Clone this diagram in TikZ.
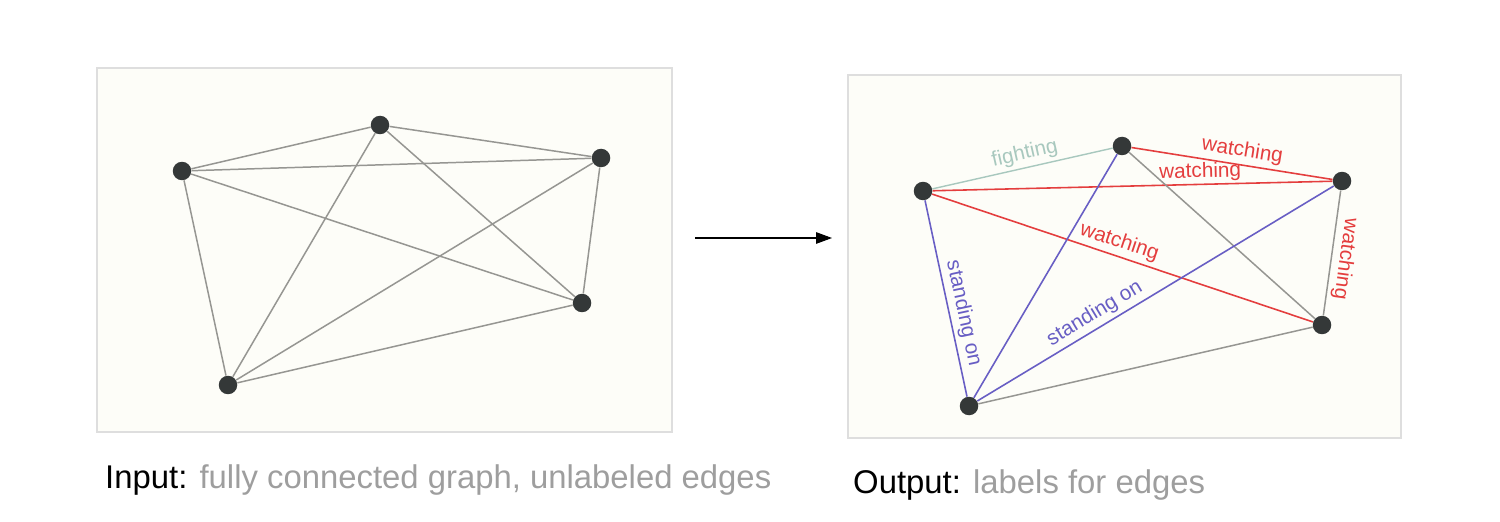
\documentclass[tikz,border=0pt]{standalone}
\usepackage{fontspec}
\setmainfont{Liberation Sans}
\usepackage{xcolor}
\usetikzlibrary{arrows.meta}
\definecolor{cBg}{RGB}{253,253,248}
\definecolor{cFrame}{RGB}{222,222,222}
\definecolor{cDot}{RGB}{52,56,56}
\definecolor{cEdge}{RGB}{150,150,146}
\definecolor{cWatch}{RGB}{228,62,62}
\definecolor{cStand}{RGB}{104,94,196}
\definecolor{cFight}{RGB}{168,200,190}
\definecolor{cCap}{RGB}{158,158,158}

\begin{document}
\begin{tikzpicture}[x=0.02cm,y=0.02cm,
  dot/.style={circle,fill=cDot,inner sep=0pt,minimum size=0.37cm},
  panel/.style={fill=cBg,draw=cFrame,line width=0.6pt},
  edge/.style={cEdge,line width=0.85pt},
  watchedge/.style={cWatch,line width=0.9pt},
  standedge/.style={cStand,line width=0.9pt},
  fightedge/.style={cFight,line width=0.8pt},
  lbl/.style={font=\fontsize{11.8}{13}\selectfont,sloped,above,inner sep=2pt},
  caption/.style={anchor=base west,font=\fontsize{18.7}{22}\selectfont}]
\useasboundingbox (0,0) rectangle (1500,521);
% input panel
\draw[panel] (97,89) rectangle (672,453);
\node[dot] (a1) at (182,350) {};
\node[dot] (b1) at (380,396) {};
\node[dot] (c1) at (601,363) {};
\node[dot] (d1) at (582,218) {};
\node[dot] (e1) at (228,136) {};
\draw[edge] (a1) -- (b1);
\draw[edge] (a1) -- (c1);
\draw[edge] (a1) -- (d1);
\draw[edge] (a1) -- (e1);
\draw[edge] (b1) -- (c1);
\draw[edge] (b1) -- (d1);
\draw[edge] (b1) -- (e1);
\draw[edge] (c1) -- (d1);
\draw[edge] (c1) -- (e1);
\draw[edge] (d1) -- (e1);
\node[caption] (capin) at (99,33) {Input: \textcolor{cCap}{fully connected graph, unlabeled edges}};
% arrow between panels
\coordinate (arrs) at (695,283);
\coordinate (arre) at (832,283);
\draw[-{Triangle[length=9pt,width=6.5pt]},line width=0.6pt] (arrs) -- (arre);
% output panel
\draw[panel] (848,83) rectangle (1401,446);
\node[dot] (a2) at (923,330) {};
\node[dot] (b2) at (1122,375) {};
\node[dot] (c2) at (1342,340) {};
\node[dot] (d2) at (1322,196) {};
\node[dot] (e2) at (969,115) {};
\draw[fightedge] (a2) -- node[lbl,pos=0.53,text=cFight] {fighting} (b2);
\draw[watchedge] (b2) -- node[lbl,pos=0.54,text=cWatch] {watching} (c2);
\draw[watchedge] (a2) -- node[lbl,pos=0.67,text=cWatch,inner sep=1pt] {watching} (c2);
\draw[watchedge] (a2) -- node[lbl,pos=0.48,text=cWatch] {watching} (d2);
\draw[edge] (c2) -- node[lbl,allow upside down,pos=0.53,text=cWatch] {watching} (d2);
\draw[edge] (b2) -- (d2);
\draw[standedge] (b2) -- (e2);
\draw[standedge] (a2) -- node[lbl,allow upside down,pos=0.59,text=cStand] {standing on} (e2);
\draw[standedge] (e2) -- node[lbl,pos=0.35,text=cStand] {standing on} (c2);
\draw[edge] (d2) -- (e2);
\node[caption] (capout) at (847,28) {Output: \textcolor{cCap}{labels for edges}};
\end{tikzpicture}
\end{document}
